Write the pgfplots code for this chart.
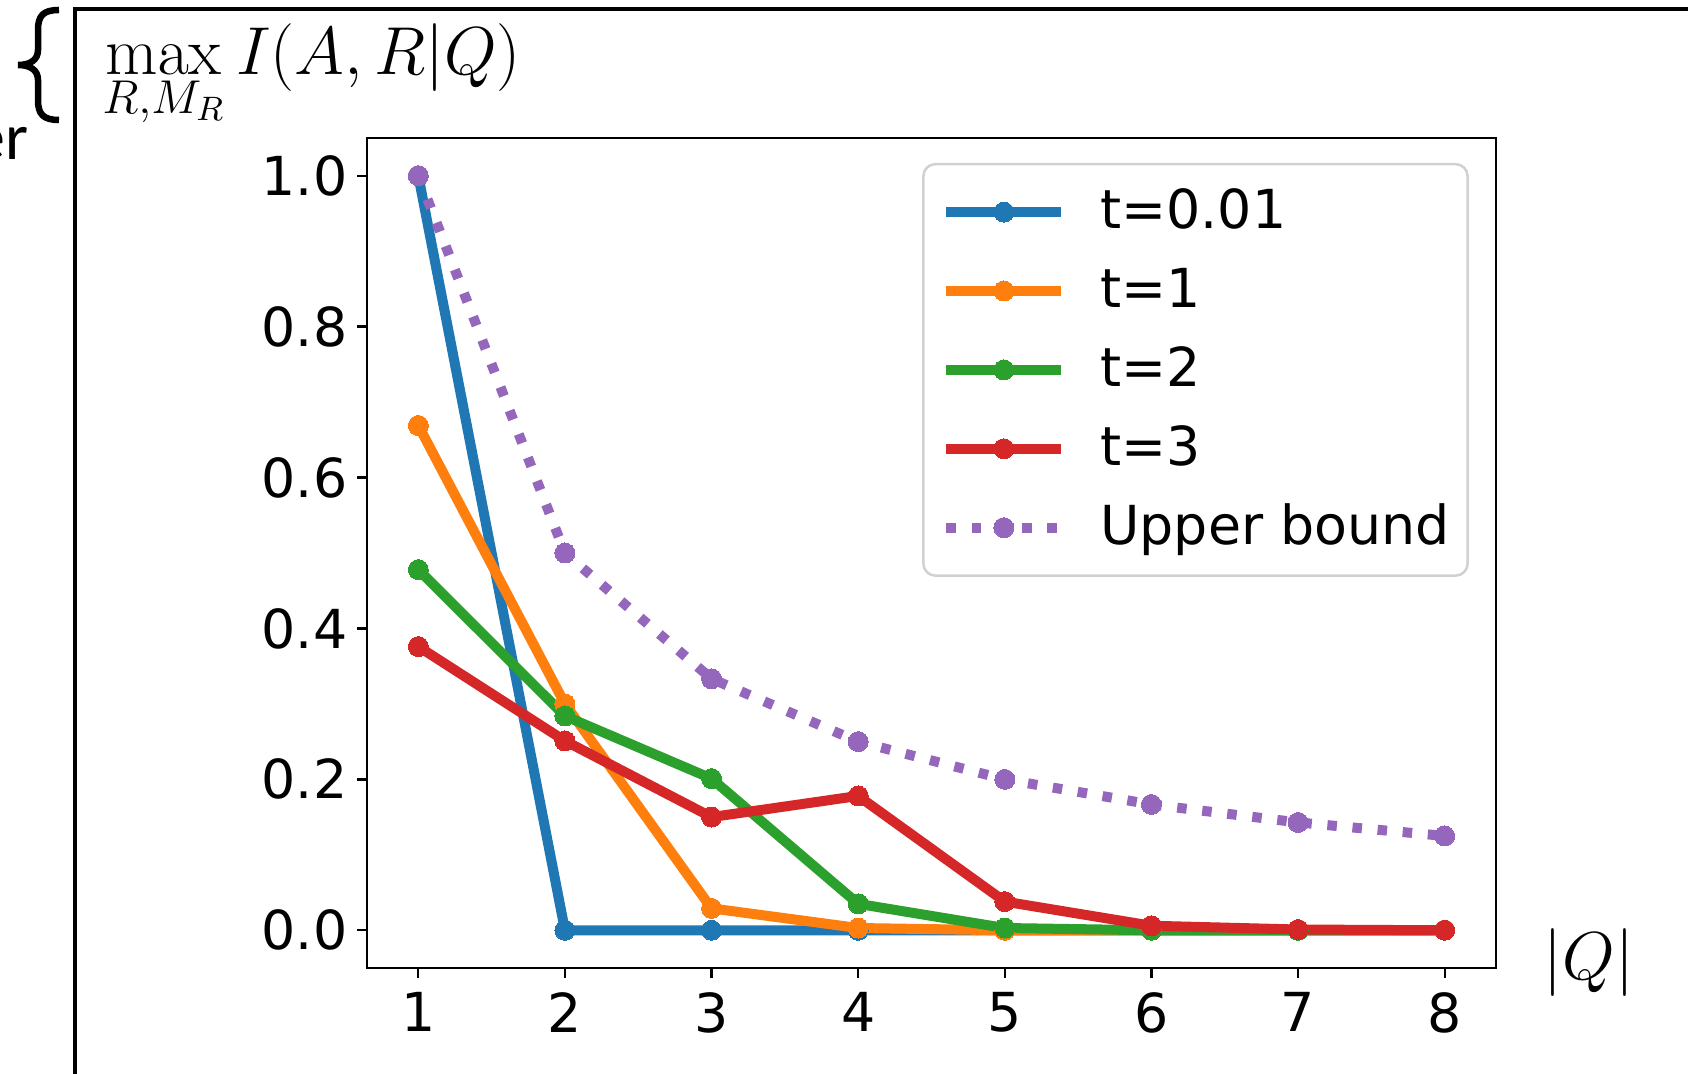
\RequirePackage{fix-cm}
\documentclass[border=0pt]{standalone}
\usepackage[no-math]{fontspec}
\setmainfont{DejaVu Sans}
\newfontfamily\carlito{Carlito}
\usepackage{pgfplots}
\pgfplotsset{compat=1.18}
\definecolor{tabblue}{HTML}{1F77B4}
\definecolor{taborange}{HTML}{FF7F0E}
\definecolor{tabgreen}{HTML}{2CA02C}
\definecolor{tabred}{HTML}{D62728}
\definecolor{tabpurple}{HTML}{9467BD}
\begin{document}
\begin{tikzpicture}
\useasboundingbox (0,0) rectangle (168.8mm,107.4mm);
\draw[line width=0.38mm] (7.5mm,-2mm) -- (7.5mm,106.5mm) -- (172mm,106.5mm);
\begin{scope}[x=1mm,y=1mm]
\draw[line width=0.65mm] (5.9,106.4) .. controls (4.3,106.4) and (3.8,105.8) .. (3.8,104.4) -- (3.8,102.4) .. controls (3.8,101.4) and (3.0,100.9) .. (1.8,100.9) .. controls (3.0,100.9) and (3.8,100.4) .. (3.8,99.4) -- (3.8,97.4) .. controls (3.8,96.0) and (4.3,95.4) .. (5.9,95.4);
\end{scope}
\node[inner sep=0pt, anchor=base east, font=\carlito\fontsize{18.8}{22}\selectfont] at (2.9mm,91.4mm) {er};
\node[inner sep=0pt, anchor=base west, font=\fontsize{19.3}{23}\selectfont] at (10.2mm,99.9mm) {$\displaystyle\max_{R,M_R} I(A,R|Q)$};
\begin{axis}[
  at={(36.7mm,10.6mm)}, anchor=south west,
  scale only axis, width=112.9mm, height=83mm,
  xmin=0.65, xmax=8.35, ymin=-0.05, ymax=1.05,
  xtick={1,2,3,4,5,6,7,8},
  ytick={0,0.2,0.4,0.6,0.8,1.0},
  /pgf/number format/assume math mode=true,
  tick label style={font=\fontsize{15.3}{18}\selectfont, inner sep=0pt},
  yticklabel style={/pgf/number format/fixed, /pgf/number format/fixed zerofill, /pgf/number format/precision=1, xshift=-0.9mm},
  xticklabel style={yshift=-1.4mm},
  tick align=outside, tick pos=left, major tick length=1mm,
  tick style={black, line width=0.23mm},
  axis line style={line width=0.27mm},
  every axis plot/.append style={line width=1.0mm, line join=round, mark=*, mark size=1.0mm, mark options={solid, line width=0pt}},
  legend image code/.code={\draw[mark repeat=2,mark phase=2,#1] plot coordinates {(0mm,0mm) (5.75mm,0mm) (11.5mm,0mm)};},
  legend cell align=left,
  legend style={at={(0.976,0.970)}, anchor=north east, draw=black!18, line width=0.25mm,
    rounded corners=1.2mm, fill=white, inner xsep=1.8mm, inner ysep=0.85mm,
    row sep=0pt, column sep=3.4mm, font=\fontsize{15.3}{18}\selectfont,
    nodes={inner sep=0pt, text height=5.59mm, text depth=2.30mm}},
]
\addplot[color=tabblue] coordinates {(1,1.0) (2,0) (3,0) (4,0) (5,0) (6,0) (7,0) (8,0)};
\addlegendentry{t=0.01}
\addplot[color=taborange] coordinates {(1,0.669) (2,0.300) (3,0.029) (4,0.003) (5,0.0) (6,0) (7,0) (8,0)};
\addlegendentry{t=1}
\addplot[color=tabgreen] coordinates {(1,0.478) (2,0.284) (3,0.201) (4,0.035) (5,0.003) (6,0.0) (7,0) (8,0)};
\addlegendentry{t=2}
\addplot[color=tabred] coordinates {(1,0.376) (2,0.251) (3,0.150) (4,0.178) (5,0.038) (6,0.006) (7,0.001) (8,0.0)};
\addlegendentry{t=3}
\addplot[color=tabpurple, line cap=butt, dash pattern=on 0.95mm off 1.57mm] coordinates {(1,1.0) (2,0.5) (3,0.3333) (4,0.25) (5,0.2) (6,0.1667) (7,0.1429) (8,0.125)};
\addlegendentry{Upper bound}
\end{axis}
\node[anchor=base, inner sep=0pt, font=\fontsize{19.3}{23}\selectfont] at (158.9mm,9.4mm) {$|Q|$};
\end{tikzpicture}
\end{document}
